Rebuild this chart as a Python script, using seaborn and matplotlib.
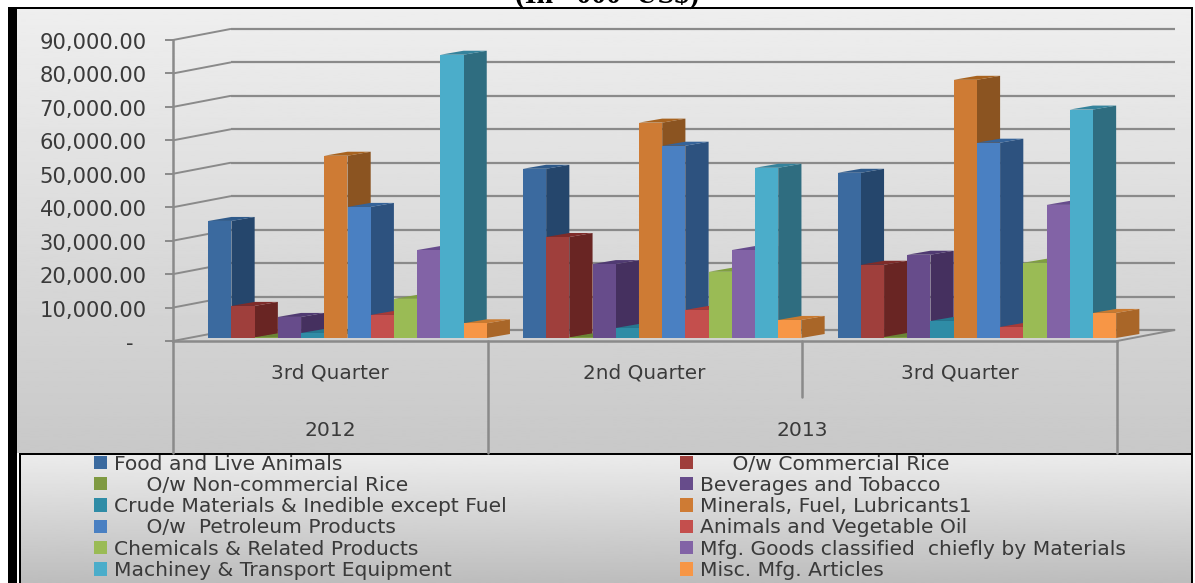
import numpy as np
import pandas as pd
import matplotlib
matplotlib.use("Agg")
import matplotlib.pyplot as plt
from matplotlib.patches import Polygon, Rectangle
from matplotlib.transforms import Affine2D
import seaborn as sns

periods = ["2012 3rd Quarter", "2013 2nd Quarter", "2013 3rd Quarter"]
quarter_labels = ["3rd Quarter", "2nd Quarter", "3rd Quarter"]
year_labels = ["2012", "2013"]
series_names = ["Food and Live Animals", "     O/w Commercial Rice", "     O/w Non-commercial Rice",
                "Beverages and Tobacco", "Crude Materials & Inedible except Fuel",
                "Minerals, Fuel, Lubricants1", "     O/w  Petroleum Products",
                "Animals and Vegetable Oil", "Chemicals & Related Products",
                "Mfg. Goods classified  chiefly by Materials", "Machiney & Transport Equipment",
                "Misc. Mfg. Articles"]
food = [35000, 50600, 49400]
commercial_rice = [9600, 30200, 21900]
noncommercial_rice = [200, 200, 300]
beverages = [6300, 22100, 24900]
crude = [1500, 3000, 5100]
minerals = [54500, 64400, 77200]
petroleum = [39200, 57500, 58400]
animal_oil = [6900, 8400, 3300]
chemicals = [11700, 19800, 22500]
mfg_goods = [26300, 26300, 39800]
machinery = [84700, 50900, 68300]
misc_mfg = [4400, 5400, 7500]
all_series = [food, commercial_rice, noncommercial_rice, beverages, crude, minerals,
              petroleum, animal_oil, chemicals, mfg_goods, machinery, misc_mfg]
y_ticks = [0, 10000, 20000, 30000, 40000, 50000, 60000, 70000, 80000, 90000]
y_labels = ["-  ", "10,000.00", "20,000.00", "30,000.00", "40,000.00", "50,000.00",
            "60,000.00", "70,000.00", "80,000.00", "90,000.00"]
title_text = "(In  '000  US$)"

front = ["#3B6A9F", "#9F3F3C", "#7F9A42", "#674C8B", "#2F8CA6", "#CE7B34",
         "#4A80C2", "#C44F4D", "#9ABB55", "#8263A6", "#4BADCA", "#F79646"]
side = ["#25466C", "#692523", "#536B2A", "#45305F", "#1E6074", "#8B5421",
        "#2D527F", "#8E3230", "#6A8538", "#574270", "#2F6D80", "#A96628"]
top = ["#2F5A8A", "#7F2C2A", "#6A8536", "#503A72", "#257890", "#A8631F",
       "#356399", "#A83A37", "#7F9E40", "#664B8C", "#35839C", "#C97A30"]

TEXT = "#3A3A3A"
LINE = "#8A8A8A"
W, H = 1195, 583

sns.set_theme(style="white")
plt.rcParams["font.family"] = ["DejaVu Sans"]

fig = plt.figure(figsize=(W / 100, H / 100), dpi=100, facecolor="white")


def frac(x0, y_top, x1, y_bot):
    return [x0 / W, 1 - y_bot / H, (x1 - x0) / W, (y_bot - y_top) / H]


# Background layer in pixel coordinates
bg = fig.add_axes([0, 0, 1, 1], zorder=0)
bg.set_xlim(0, W)
bg.set_ylim(H, 0)
bg.axis("off")
grad_main = np.linspace(0.935, 0.785, 256).reshape(-1, 1)
grad_leg = np.linspace(0.925, 0.74, 256).reshape(-1, 1)
bg.imshow(grad_main, extent=(17, 1191, 453, 8), cmap="gray", vmin=0, vmax=1, aspect="auto")
bg.imshow(grad_leg, extent=(20, 1191, 583, 454), cmap="gray", vmin=0, vmax=1, aspect="auto")
bg.set_xlim(0, W)
bg.set_ylim(H, 0)
bg.add_patch(Rectangle((8, 6.5), 1185, 2, color="black", lw=0))
bg.add_patch(Rectangle((8, 7), 9.5, H, color="black", lw=0))
bg.add_patch(Rectangle((19.5, 453), 1.5, H, color="black", lw=0))
bg.add_patch(Rectangle((19.5, 452.5), 1173, 2, color="black", lw=0))
bg.add_patch(Rectangle((1191, 7), 2, H, color="black", lw=0))
bg.text(607, 3, title_text, ha="center", va="baseline", fontsize=21.5, fontweight="bold",
        family="Liberation Serif", color="black", zorder=1)

# Main chart axes
ax = fig.add_axes(frac(173, 40, 1117, 341), zorder=1)
ax.patch.set_alpha(0)

df = pd.DataFrame({
    "period": np.repeat(periods, len(series_names)),
    "series": series_names * len(periods),
    "value": [s[i] for i in range(len(periods)) for s in all_series],
})
sns.barplot(data=df, x="period", y="value", hue="series", order=periods,
            hue_order=series_names, palette=front, saturation=1, gap=0, width=0.885,
            errorbar=None, linewidth=0, ax=ax, legend=True)
handles, labels = ax.get_legend_handles_labels()
ax.get_legend().remove()

group_px = 314.7
x_lo = (173 - 347.5) / group_px
x_hi = x_lo + (1117 - 173) / group_px
ax.set_xlim(x_lo, x_hi)
ax.set_ylim(0, 90000)
y_per_px = 90000 / 301

# 3D extrusion of bars
bar_dx, bar_dy = 23.2 / group_px, 4 * y_per_px
lift = Affine2D().translate(0, 3)
bar_tf = ax.transData + lift
for i, cont in enumerate(ax.containers):
    z = 3 + i * 0.01
    for rect in cont:
        x0, x1 = rect.get_x(), rect.get_x() + rect.get_width()
        t = rect.get_height()
        rect.set_transform(bar_tf)
        rect.set_zorder(z)
        rect.set_clip_on(False)
        ax.add_patch(Polygon([(x1, 0), (x1 + bar_dx, bar_dy), (x1 + bar_dx, t + bar_dy), (x1, t)],
                             closed=True, facecolor=side[i], lw=0, zorder=z - 0.005,
                             transform=bar_tf, clip_on=False))
        ax.add_patch(Polygon([(x0, t), (x1, t), (x1 + bar_dx, t + bar_dy), (x0 + bar_dx, t + bar_dy)],
                             closed=True, facecolor=top[i], lw=0, zorder=z - 0.004,
                             transform=bar_tf, clip_on=False))

# Walls and gridlines
wall_dx, wall_dy = 57.5 / group_px, 11 * y_per_px
for v in y_ticks:
    ax.plot([x_lo + wall_dx, x_hi + wall_dx], [v + wall_dy] * 2, color=LINE, lw=1.6,
            zorder=1, clip_on=False, solid_capstyle="butt")
    ax.plot([x_lo, x_lo + wall_dx], [v, v + wall_dy], color=LINE, lw=1.4, zorder=1, clip_on=False)
ax.plot([x_hi, x_hi + wall_dx], [0, wall_dy], color=LINE, lw=1.4, zorder=1, clip_on=False)

for s in ax.spines.values():
    s.set_visible(False)
ax.spines["left"].set_visible(True)
ax.spines["bottom"].set_visible(True)
for n in ("left", "bottom"):
    ax.spines[n].set_color(LINE)
    ax.spines[n].set_linewidth(1.8)
    ax.spines[n].set_zorder(2)

ax.set_yticks(y_ticks, y_labels)
ax.tick_params(axis="y", left=True, length=6, width=1.4, color=LINE, pad=13, labelcolor=TEXT, labelsize=15.2)
for lab in ax.get_yticklabels():
    lab.set_verticalalignment("center")
    lab.set_transform(lab.get_transform() + Affine2D().translate(0, -3))

# Category table below the floor
bar_shift = 17.5 / group_px
centers = [p - bar_shift for p in range(len(periods))]
ax.set_xticks(centers, quarter_labels)
ax.tick_params(axis="x", bottom=False, length=0, pad=16, labelcolor=TEXT, labelsize=14.4)
ax.set_xlabel("")
ax.set_ylabel("")

xt = ax.get_xaxis_transform()
def to_ax(py):
    return (341 - py) / 301

edges = [x_lo, x_lo + 1, x_lo + 2, x_lo + 3]
ax.plot([edges[0]] * 2, [0, to_ax(453)], transform=xt, color=LINE, lw=1.8, clip_on=False, zorder=2)
ax.plot([edges[1]] * 2, [0, to_ax(453)], transform=xt, color=LINE, lw=1.8, clip_on=False, zorder=2)
ax.plot([edges[2]] * 2, [0, to_ax(397)], transform=xt, color=LINE, lw=1.8, clip_on=False, zorder=2)
ax.plot([edges[3]] * 2, [0, to_ax(453)], transform=xt, color=LINE, lw=1.8, clip_on=False, zorder=2)
ax.text(edges[0] + 0.5, to_ax(430), year_labels[0], transform=xt, ha="center", va="center",
        color=TEXT, fontsize=14.6)
ax.text(edges[2], to_ax(430), year_labels[1], transform=xt, ha="center", va="center",
        color=TEXT, fontsize=14.6)

# Legend: two columns, row-wise order
def legend_at(px, idx):
    return fig.legend([handles[k] for k in idx], [labels[k] for k in idx],
                      loc="upper left", bbox_to_anchor=(px / W, 1 - 454.5 / H),
                      frameon=False, fontsize=14.6, labelcolor=TEXT, ncol=1,
                      handlelength=0.65, handleheight=0.65, handletextpad=0.36,
                      labelspacing=0.115, borderpad=0, borderaxespad=0)

legend_at(94, range(0, 12, 2))
legend_at(680, range(1, 12, 2))

fig.savefig("out.png", dpi=100, facecolor="white")
